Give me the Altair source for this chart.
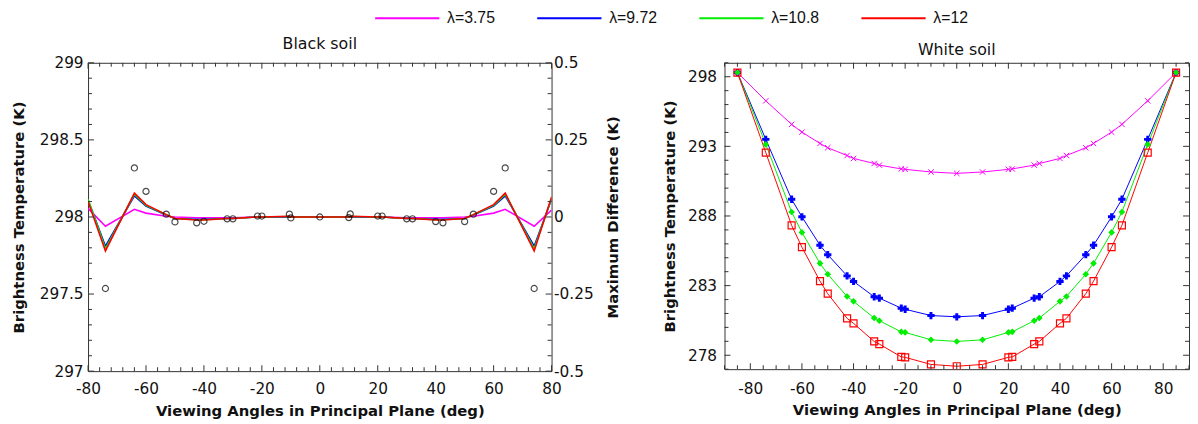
import altair as alt
import pandas as pd

LAMS = ["λ=3.75", "λ=9.72", "λ=10.8", "λ=12"]
COLORS = ["#ff00ff", "#0000ff", "#00ee00", "#ff0000"]

# ---------------- Black soil (left panel) ----------------
b_ang = [-80, -74, -64, -60, -53, -50, -42.5, -40, -32, -30, -21.5, -20, -10.5, -10, 0,
         10, 10.5, 20, 21.5, 30, 32, 40, 42.5, 50, 53, 60, 64, 74, 80]
b_375 = [298.056, 297.94, 298.05, 298.025, 298.005, 298.0, 297.995, 297.995, 297.995, 297.995,
         298.0, 298.0, 298.0, 298.0, 298.0, 298.0, 298.0, 298.0, 298.0, 297.995, 297.995,
         297.995, 297.995, 298.0, 298.005, 298.025, 298.05, 297.94, 298.045]
b_972 = [298.11, 297.81, 298.137, 298.07, 298.012, 297.99, 297.985, 297.985, 297.99, 297.99,
         298.0, 298.0, 298.0, 298.0, 298.0, 298.0, 298.0, 298.0, 298.0, 297.99, 297.99,
         297.985, 297.985, 297.99, 298.012, 298.07, 298.137, 297.81, 298.115]
b_108 = [298.115, 297.795, 298.147, 298.075, 298.014, 297.99, 297.982, 297.982, 297.99, 297.99,
         298.0, 298.0, 298.003, 298.0, 298.0, 298.0, 298.003, 298.0, 298.0, 297.99, 297.99,
         297.982, 297.982, 297.99, 298.014, 298.075, 298.147, 297.795, 298.12]
b_12 = [298.10, 297.78, 298.155, 298.08, 298.015, 297.99, 297.98, 297.98, 297.99, 297.99,
        298.0, 298.0, 298.005, 298.0, 298.0, 298.0, 298.005, 298.0, 298.0, 297.99, 297.99,
        297.98, 297.98, 297.99, 298.015, 298.08, 298.155, 297.78, 298.13]

c_ang = [-74, -64, -60, -53, -50, -42.5, -40, -32, -30, -21.5, -20, -10.5, -10, 0,
         10, 10.5, 20, 21.5, 30, 32, 40, 42.5, 50, 53, 60, 64, 74]
c_diff = [-0.232, 0.159, 0.083, 0.009, -0.016, -0.019, -0.014, -0.006, -0.006, 0.003, 0.003,
          0.009, -0.003, 0.0, -0.002, 0.01, 0.003, 0.003, -0.006, -0.006, -0.015, -0.019,
          -0.015, 0.009, 0.083, 0.159, -0.232]

# ---------------- White soil (right panel) ----------------
w_ang = [-85, -74, -64, -60, -53, -50, -42.5, -40, -32, -30, -21.5, -20, -10, 0,
         10, 20, 21.5, 30, 32, 40, 42.5, 50, 53, 60, 64, 74, 85]
w_375 = [298.3, 296.27, 294.58, 294.02, 293.21, 292.9, 292.34, 292.13, 291.77, 291.65, 291.38,
         291.35, 291.16, 291.06, 291.16, 291.35, 291.38, 291.65, 291.77, 292.13, 292.34, 292.9,
         293.21, 294.02, 294.58, 296.27, 298.3]
w_972 = [298.3, 293.5, 289.2, 287.94, 285.9, 285.22, 283.7, 283.3, 282.2, 282.1, 281.38,
         281.3, 280.85, 280.76, 280.85, 281.3, 281.38, 282.1, 282.2, 283.3, 283.7, 285.22,
         285.9, 287.94, 289.2, 293.5, 298.3]
w_108 = [298.3, 293.14, 288.29, 286.82, 284.6, 283.82, 282.22, 281.87, 280.67, 280.48, 279.68,
         279.64, 279.11, 278.99, 279.11, 279.64, 279.68, 280.48, 280.67, 281.87, 282.22, 283.82,
         284.6, 286.82, 288.29, 293.14, 298.3]
w_12 = [298.3, 292.55, 287.33, 285.76, 283.32, 282.42, 280.65, 280.29, 278.99, 278.8, 277.88,
        277.85, 277.34, 277.21, 277.34, 277.85, 277.88, 278.8, 278.99, 280.29, 280.65, 282.42,
        283.32, 285.76, 287.33, 292.55, 298.3]

# ---------------- tick positions ----------------
bx_major = [-80, -60, -40, -20, 0, 20, 40, 60, 80]
bx_minor = [v for v in range(-80, 81, 4) if v % 20 != 0]
by_major = [297, 297.5, 298, 298.5, 299]
by_minor = [round(297 + i * 0.1, 1) for i in range(21) if i % 5 != 0]
bd_major = [-0.5, -0.25, 0, 0.25, 0.5]
wx_major = [-80, -60, -40, -20, 0, 20, 40, 60, 80]
wx_minor = [v for v in range(-90, 91, 5) if v % 20 != 0]
wy_major = [278, 283, 288, 293, 298]
wy_minor = [v for v in range(277, 300) if v not in wy_major]

AX = "#333333"
TXT = "#111111"
FONT = "DejaVu Sans"
W1, H1 = 469, 312
W2, H2 = 470, 310

axis_common = dict(
    ticks=False, domain=False, grid=False, labelFlush=False, labelOverlap=False,
    labelFont=FONT, labelFontSize=15.5, labelColor=TXT,
    titleFont=FONT, titleFontSize=15, titleFontWeight="bold", titleColor=TXT,
    labelExpr="datum.value + ''",
)

cscale = alt.Scale(domain=LAMS, range=COLORS)
LEG = alt.Legend(
    orient="none", legendX=315, legendY=-53, direction="horizontal", columns=4,
    title=None, symbolType="M-10,0H10", symbolSize=42.25, symbolStrokeWidth=2,
    labelFont="Liberation Sans", labelFontSize=16, labelColor=TXT, labelOffset=32.25,
    columnPadding=38, gridAlign="all", padding=0,
)


def tick_layers(xenc, yenc, xmaj, xmin, ymaj, ymin, W, H, yfield):
    layers = []
    for vals, L in ((xmaj, 6), (xmin, 4)):
        base = alt.Chart(pd.DataFrame({"angle": vals})).mark_rule(color=AX, strokeWidth=1)
        layers.append(base.encode(x=xenc, y=alt.value(0), y2=alt.value(L)))
        layers.append(base.encode(x=xenc, y=alt.value(H), y2=alt.value(H - L)))
    for vals, L in ((ymaj, 6), (ymin, 4)):
        base = alt.Chart(pd.DataFrame({yfield: vals})).mark_rule(color=AX, strokeWidth=1)
        layers.append(base.encode(y=yenc, x=alt.value(0), x2=alt.value(L)))
        layers.append(base.encode(y=yenc, x=alt.value(W), x2=alt.value(W - L)))
    return layers


def long_df(ang, series):
    rows = []
    for lam, vals in zip(LAMS, series):
        for a, v in zip(ang, vals):
            rows.append({"angle": a, "temp": v, "lam": lam})
    return pd.DataFrame(rows)


XTITLE = "Viewing Angles in Principal Plane (deg)"
YTITLE = "Brightness Temperature (K)"

# ---------- left panel ----------
xenc_b = alt.X("angle:Q", scale=alt.Scale(domain=[-80, 80], nice=False, zero=False),
               axis=alt.Axis(values=bx_major, title=XTITLE, labelPadding=11, titlePadding=6,
                             **axis_common))
yenc_b = alt.Y("temp:Q", scale=alt.Scale(domain=[297, 299], nice=False, zero=False),
               axis=alt.Axis(values=by_major, title=YTITLE, orient="left", labelPadding=5,
                             titlePadding=13, **axis_common))

df_b = long_df(b_ang, [b_375, b_972, b_108, b_12])
lines_b = alt.Chart(df_b).mark_line(strokeWidth=1.6, clip=True).encode(
    x=xenc_b, y=yenc_b, color=alt.Color("lam:N", scale=cscale, legend=LEG))

inner_b = alt.layer(
    lines_b,
    *tick_layers(xenc_b, yenc_b, bx_major, bx_minor, by_major, by_minor, W1, H1, "temp"),
)

df_c = pd.DataFrame({"angle": c_ang, "diff": c_diff})
circles = alt.Chart(df_c).mark_point(shape="circle", filled=False, color="black",
                                      size=38, strokeWidth=1.2).encode(
    x=xenc_b,
    y=alt.Y("diff:Q", scale=alt.Scale(domain=[-0.5, 0.5], nice=False, zero=False),
            axis=alt.Axis(values=bd_major, title="Maximum Difference (K)", orient="right",
                          labelPadding=2, titlePadding=13, titleAngle=270, titleBaseline="top",
                          **axis_common)),
)

left = alt.layer(inner_b, circles).resolve_scale(y="independent").properties(
    width=W1, height=H1,
    title=alt.Title("Black soil", font=FONT, fontSize=16, fontWeight="normal", color=TXT,
                    offset=4),
)

# ---------- right panel ----------
xenc_w = alt.X("angle:Q", scale=alt.Scale(domain=[-90, 90], nice=False, zero=False),
               axis=alt.Axis(values=wx_major, title=XTITLE, labelPadding=12.5, titlePadding=5.5,
                             **axis_common))
yenc_w = alt.Y("temp:Q", scale=alt.Scale(domain=[277, 299], nice=False, zero=False),
               axis=alt.Axis(values=wy_major, title=YTITLE, orient="left", labelPadding=8,
                             titlePadding=10, **axis_common))

df_w = long_df(w_ang, [w_375, w_972, w_108, w_12])
lines_w = alt.Chart(df_w).mark_line(strokeWidth=1, clip=True).encode(
    x=xenc_w, y=yenc_w, color=alt.Color("lam:N", scale=cscale, legend=LEG))

marker_specs = [
    (LAMS[0], dict(shape="M-1,-1L1,1M-1,1L1,-1", filled=False, size=30, strokeWidth=1,
                   color=COLORS[0])),
    (LAMS[1], dict(shape="cross", filled=True, size=55, color=COLORS[1])),
    (LAMS[2], dict(shape="diamond", filled=True, size=45, color=COLORS[2])),
    (LAMS[3], dict(shape="square", filled=False, size=50, strokeWidth=1.2, color=COLORS[3])),
]
marker_layers = []
for lam, spec in marker_specs:
    sub = df_w[df_w["lam"] == lam]
    marker_layers.append(alt.Chart(sub).mark_point(opacity=1, clip=True, **spec).encode(
        x=xenc_w, y=yenc_w))

right = alt.layer(
    lines_w, *marker_layers,
    *tick_layers(xenc_w, yenc_w, wx_major, wx_minor, wy_major, wy_minor, W2, H2, "temp"),
).properties(
    width=W2, height=H2,
    title=alt.Title("White soil", font=FONT, fontSize=16, fontWeight="normal", color=TXT,
                    offset=4),
)

chart = alt.hconcat(left, right, spacing=40).properties(
    padding={"left": 3, "top": 0, "right": 0, "bottom": 0},
    background="white",
).configure_view(stroke=AX, strokeWidth=1)

chart.save("out.html", embed_options={"renderer": "svg", "actions": False})
